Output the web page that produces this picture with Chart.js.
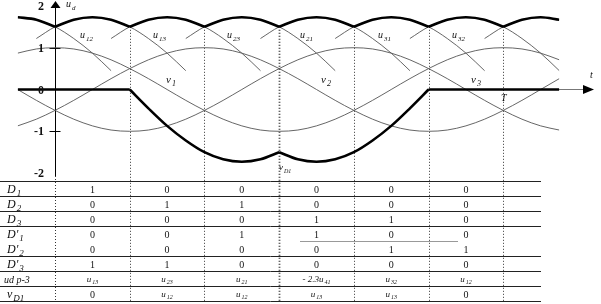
<!DOCTYPE html>
<html>
<head>
  <title>Three-phase bridge waveforms</title>
  <script src="https://cdn.jsdelivr.net/npm/chart.js@4.4.1/dist/chart.umd.min.js"></script>
  <style>
    body { margin: 0; background: #fff; }
    #wrap { width: 601px; height: 304px; }
  </style>
</head>
<body>
<div id="wrap"><canvas id="myChart" width="601" height="304"></canvas></div>
<script>
// angle grid (degrees)
const thetas = [-30,-15,0,15,30,45,60,75,90,105,120,135,150,165,180,195,210,225,240,255,270,285,300,315,330,345,360,375,390,405];
const v1 = [0.87,0.97,1,0.97,0.87,0.71,0.5,0.26,0,-0.26,-0.5,-0.71,-0.87,-0.97,-1,-0.97,-0.87,-0.71,-0.5,-0.26,0,0.26,0.5,0.71,0.87,0.97,1,0.97,0.87,0.71];
const v2 = [-0.87,-0.71,-0.5,-0.26,0,0.26,0.5,0.71,0.87,0.97,1,0.97,0.87,0.71,0.5,0.26,0,-0.26,-0.5,-0.71,-0.87,-0.97,-1,-0.97,-0.87,-0.71,-0.5,-0.26,0,0.26];
const v3 = [0,-0.26,-0.5,-0.71,-0.87,-0.97,-1,-0.97,-0.87,-0.71,-0.5,-0.26,0,0.26,0.5,0.71,0.87,0.97,1,0.97,0.87,0.71,0.5,0.26,0,-0.26,-0.5,-0.71,-0.87,-0.97];
const ud = [1.73,1.67,1.5,1.67,1.73,1.67,1.5,1.67,1.73,1.67,1.5,1.67,1.73,1.67,1.5,1.67,1.73,1.67,1.5,1.67,1.73,1.67,1.5,1.67,1.73,1.67,1.5,1.67,1.73,1.67];
const vD1 = [0,0,0,0,0,0,0,-0.45,-0.87,-1.22,-1.5,-1.67,-1.73,-1.67,-1.5,-1.67,-1.73,-1.67,-1.5,-1.22,-0.87,-0.45,0,0,0,0,0,0,0,0];
const vD1Breaks = [60, 180, 300];

// thin line-voltage arcs: peaks and the arc profile around each peak
const arcPeaks = [-30, 30, 90, 150, 210, 270, 330, 390];
const arcOffsets = [-45, -30, -15, 0, 15, 30, 45, 60, 75];
const arcShape = [1.22, 1.5, 1.67, 1.73, 1.67, 1.5, 1.22, 0.87, 0.45];

const gridAngles = [0, 60, 120, 180, 240, 300, 360];
const yTicks = [2, 1, 0, -1, -2];

// table under the plot
const rowLabels = [['D','1'],['D','2'],['D','3'],["D'",'1'],["D'",'2'],["D'",'3'],['ud p-3',''],['v','D1']];
const rowValues = [
  ['1','0','0','0','0','0'],
  ['0','1','1','0','0','0'],
  ['0','0','0','1','1','0'],
  ['0','0','1','1','0','0'],
  ['0','0','0','0','1','1'],
  ['1','1','0','0','0','0'],
  ['u13','u23','u21','- 2.3u41','u32','u12'],
  ['0','u12','u12','u13','u13','0']
];

function toPoints(xs, ys, breaks) {
  const pts = [];
  xs.forEach(function (t, i) {
    pts.push({x: t, y: ys[i]});
    if (breaks.indexOf(t) >= 0 && i > 0 && i < xs.length - 1) {
      pts.push({x: t, y: null});
      pts.push({x: t, y: ys[i]});
    }
  });
  return pts;
}

let arcPts = [];
arcPeaks.forEach(function (p) {
  let last = p;
  arcOffsets.forEach(function (o, j) {
    const t = p + o;
    if (t >= thetas[0] && t <= thetas[thetas.length - 1]) {
      arcPts.push({x: t, y: arcShape[j]});
      last = t;
    }
  });
  arcPts.push({x: last, y: null});
});

const FONT = '"Liberation Serif", "DejaVu Serif", serif';

function subText(ctx, main, sub, x, y, size, align) {
  ctx.textAlign = 'left';
  ctx.textBaseline = 'alphabetic';
  ctx.font = 'italic ' + size + 'px ' + FONT;
  const w1 = ctx.measureText(main).width;
  const ss = Math.round(size * 0.72);
  ctx.font = 'italic ' + ss + 'px ' + FONT;
  const w2 = ctx.measureText(sub).width;
  let x0 = x;
  if (align === 'center') x0 = x - (w1 + w2 + 1) / 2;
  ctx.font = 'italic ' + size + 'px ' + FONT;
  ctx.fillText(main, x0, y);
  ctx.font = 'italic ' + ss + 'px ' + FONT;
  ctx.fillText(sub, x0 + w1 + 1, y + size * 0.28);
}

function line(ctx, x1, y1, x2, y2) {
  ctx.beginPath();
  ctx.moveTo(x1, y1);
  ctx.lineTo(x2, y2);
  ctx.stroke();
}

const tableTop = 181, rowH = 15, tableRight = 541;

const deco = {
  id: 'deco',
  beforeDraw(chart) {
    const ctx = chart.ctx;
    ctx.save();
    ctx.fillStyle = '#fff';
    ctx.fillRect(0, 0, chart.width, chart.height);
    ctx.restore();
  },
  beforeDatasetsDraw(chart) {
    const ctx = chart.ctx, xs = chart.scales.x, ys = chart.scales.y;
    const tableBottom = tableTop + rowH * rowLabels.length;
    ctx.save();
    // dotted verticals
    ctx.strokeStyle = '#333';
    ctx.setLineDash([1, 2]);
    gridAngles.forEach(function (a) {
      const px = Math.round(xs.getPixelForValue(a)) + 0.5;
      ctx.lineWidth = a === 180 ? 1.8 : 1;
      const top = a === 0 ? 176 : ys.getPixelForValue(1.5);
      line(ctx, px, top, px, tableBottom);
    });
    ctx.setLineDash([]);
    // y axis
    const ax = Math.round(xs.getPixelForValue(0)) + 0.5;
    ctx.strokeStyle = '#000';
    ctx.lineWidth = 1;
    line(ctx, ax, 6, ax, 176);
    ctx.fillStyle = '#000';
    ctx.beginPath();
    ctx.moveTo(ax, 1);
    ctx.lineTo(ax - 5, 8);
    ctx.lineTo(ax + 5, 8);
    ctx.closePath();
    ctx.fill();
    [1, -1].forEach(function (v) {
      const py = Math.round(ys.getPixelForValue(v)) + 0.5;
      line(ctx, ax - 6, py, ax + 5, py);
    });
    // x axis arrow
    const y0 = ys.getPixelForValue(0);
    const xe = xs.getPixelForValue(405);
    ctx.strokeStyle = '#777';
    line(ctx, xe - 2, y0, 585, y0);
    ctx.fillStyle = '#000';
    ctx.beginPath();
    ctx.moveTo(594, y0);
    ctx.lineTo(583, y0 - 4.5);
    ctx.lineTo(583, y0 + 4.5);
    ctx.closePath();
    ctx.fill();
    ctx.restore();
  },
  afterDraw(chart) {
    const ctx = chart.ctx, xs = chart.scales.x, ys = chart.scales.y;
    ctx.save();
    ctx.fillStyle = '#111';
    // y tick labels
    ctx.font = 'bold 12px ' + FONT;
    ctx.textAlign = 'right';
    ctx.textBaseline = 'middle';
    yTicks.forEach(function (v) {
      ctx.fillText(String(v), 44, ys.getPixelForValue(v) + 1);
    });
    // curve labels
    subText(ctx, 'u', 'd', 66, 7, 10, 'left');
    ctx.font = 'italic 10px ' + FONT;
    ctx.textAlign = 'left';
    ctx.fillText('t', 590, 78);
    ctx.fillText('T', 501, 101);
    subText(ctx, 'v', '1', 166, 83, 11, 'left');
    subText(ctx, 'v', '2', 321, 83, 11, 'left');
    subText(ctx, 'v', '3', 471, 83, 11, 'left');
    [['12', 80], ['13', 153], ['23', 227], ['21', 300], ['31', 378], ['32', 452]].forEach(function (l) {
      subText(ctx, 'u', l[0], l[1], 38, 10, 'left');
    });
    subText(ctx, 'v', 'D1', 279, 170, 9, 'left');

    // table
    ctx.strokeStyle = '#222';
    ctx.lineWidth = 1;
    for (let i = 0; i <= rowLabels.length; i++) {
      const yy = tableTop + i * rowH + 0.5;
      if (i === 4) {
        ctx.strokeStyle = '#999';
        line(ctx, 300, yy, 458, yy);
        ctx.strokeStyle = '#222';
      } else {
        line(ctx, 0, yy, tableRight, yy);
      }
    }
    rowLabels.forEach(function (lab, r) {
      const ym = tableTop + r * rowH + rowH / 2;
      if (lab[1] === '') {
        ctx.font = 'italic 10px ' + FONT;
        ctx.textAlign = 'left';
        ctx.textBaseline = 'alphabetic';
        ctx.fillText(lab[0], 4, ym + 4);
      } else {
        subText(ctx, lab[0], lab[1], 7, ym + 4, 12, 'left');
      }
      rowValues[r].forEach(function (val, c) {
        const cx = xs.getPixelForValue(30 + 60 * c);
        const k = val.lastIndexOf('u');
        if (k >= 0) {
          subText(ctx, val.slice(0, k + 1), val.slice(k + 1), cx, ym + 3, 9, 'center');
        } else {
          ctx.font = '10px ' + FONT;
          ctx.textAlign = 'center';
          ctx.textBaseline = 'alphabetic';
          ctx.fillText(val, cx, ym + 4);
        }
      });
    });
    ctx.restore();
  }
};

const thin = {borderColor: '#555', borderWidth: 0.9, pointRadius: 0, cubicInterpolationMode: 'monotone'};
const bold = {borderColor: '#000', borderWidth: 2.6, pointRadius: 0, cubicInterpolationMode: 'monotone'};

const ctx = document.getElementById('myChart').getContext('2d');
const myChart = new Chart(ctx, {
  type: 'line',
  data: {
    datasets: [
      Object.assign({label: 'vD1', data: toPoints(thetas, vD1, vD1Breaks)}, bold),
      Object.assign({label: 'ud', data: toPoints(thetas, ud, gridAngles)}, bold),
      Object.assign({label: 'line voltages', data: arcPts}, thin),
      Object.assign({label: 'v1', data: toPoints(thetas, v1, [])}, thin),
      Object.assign({label: 'v2', data: toPoints(thetas, v2, [])}, thin),
      Object.assign({label: 'v3', data: toPoints(thetas, v3, [])}, thin)
    ]
  },
  options: {
    responsive: false,
    devicePixelRatio: 1,
    animation: false,
    events: [],
    layout: {padding: {left: 17.7, right: 41.7, top: 5.9, bottom: 130.9}},
    plugins: {legend: {display: false}, tooltip: {enabled: false}},
    scales: {
      x: {type: 'linear', min: -30, max: 405, display: false},
      y: {min: -2, max: 2, display: false}
    }
  },
  plugins: [deco]
});
</script>
</body>
</html>
